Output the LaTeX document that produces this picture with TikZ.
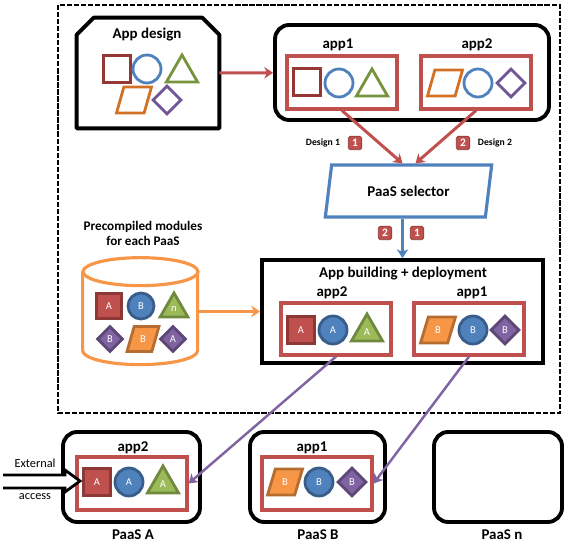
\documentclass[tikz,border=0pt]{standalone}
\usepackage{fontspec}
\setmainfont{Carlito}
\usepackage{tikz}
\usetikzlibrary{shapes.geometric, arrows.meta, positioning, calc}
\usepackage{xcolor}
\definecolor{boxred}{RGB}{192,80,77}
\definecolor{sqdark}{RGB}{149,55,53}
\definecolor{sqline}{RGB}{140,56,54}
\definecolor{cblue}{RGB}{79,129,189}
\definecolor{cline}{RGB}{56,93,138}
\definecolor{tgreen}{RGB}{119,147,60}
\definecolor{tgreenf}{RGB}{155,187,89}
\definecolor{tline}{RGB}{113,137,63}
\definecolor{porange}{RGB}{210,112,36}
\definecolor{porangef}{RGB}{247,150,70}
\definecolor{pline}{RGB}{182,109,49}
\definecolor{dpurple}{RGB}{112,86,150}
\definecolor{dpurplef}{RGB}{128,100,162}
\definecolor{dline}{RGB}{92,71,118}

\begin{document}
\begin{tikzpicture}[
        x=0.02cm, y=-0.02cm,
        holder/.style={draw=black, line width=2.2pt, rounded corners=8pt, inner sep=0pt},
        appbox/.style={rectangle, draw=boxred, line width=1.8pt, minimum width=2.2cm, minimum height=1.06cm, inner sep=0pt},
        heading/.style={font=\fontsize{8.5}{10}\selectfont\bfseries},
        tag/.style={font=\fontsize{5.5}{6}\selectfont\bfseries},
        badge/.style={fill=boxred, draw=sqline, rounded corners=1pt, minimum size=0.27cm, inner sep=0pt, text=white, font=\fontsize{6.5}{7}\selectfont\bfseries},
        shp/.style={line width=1.6pt, inner sep=0pt, text=white, font=\fontsize{6}{7}\selectfont},
        sq/.style={shp, rectangle, minimum size=0.54cm},
        circ/.style={shp, circle, minimum size=0.56cm},
        tri/.style={shp, regular polygon, regular polygon sides=3, minimum size=0.72cm},
        para/.style={shp, trapezium, trapezium left angle=70, trapezium right angle=110, trapezium stretches=true, inner sep=1pt, minimum width=0.7cm, minimum height=0.52cm},
        dia/.style={shp, diamond, minimum size=0.58cm},
        osq/.style={sq, draw=sqdark},
        ocirc/.style={circ, draw=cblue},
        otri/.style={tri, draw=tgreen},
        opara/.style={para, draw=porange},
        odia/.style={dia, draw=dpurple},
        fsq/.style={sq, fill=boxred, draw=sqline},
        fcirc/.style={circ, fill=cblue, draw=cline},
        ftri/.style={tri, fill=tgreenf, draw=tline},
        fpara/.style={para, fill=porangef, draw=pline},
        fdia/.style={dia, fill=dpurplef, draw=dline},
        tip/.style={-{Stealth[length=5pt, width=6.5pt, inset=1.5pt]}},
        redarrow/.style={draw=boxred, line width=1.7pt, tip},
        bluearrow/.style={draw=cblue, line width=1.7pt, tip},
        orangearrow/.style={draw=porangef, line width=1.7pt, tip},
        purplearrow/.style={draw=dpurplef, line width=1.4pt, tip}
    ]
        \useasboundingbox (0,0) rectangle (565,543);
        \draw [line width=1.2pt, dash pattern=on 3pt off 1pt] (58,5) rectangle (560,413);

        % design side
        \node [minimum width=2.84cm, minimum height=2.2cm, inner sep=0pt] (design) at (148,73) {};
        \draw [line width=2.2pt, line join=round] (design.south west) -- ($(design.north west)+(0,17)$) -- ($(design.north west)+(17,0)$) -- ($(design.north east)+(-17,0)$) -- ($(design.north east)+(0,17)$) -- (design.south east) -- cycle;
        \node [heading] (designtitle) at (147,35) {App design};
        \node [osq] (d1) at (117,69) {};
        \node [ocirc] (d2) at (147,69) {};
        \node [otri] (d3) at (182,73) {};
        \node [opara] (d4) at (134,100) {};
        \node [odia] (d5) at (167,100) {};

        \node [holder, minimum width=5.48cm, minimum height=1.9cm] (apps) at (412,72.5) {};
        \node [heading] at (338,45) {app1};
        \node [heading] at (477,45) {app2};
        \node [appbox] (a1) at (342,82.5) {};
        \node [appbox] (a2) at (476,82.5) {};
        \node [osq] at (307,82) {};
        \node [ocirc] at (339,83) {};
        \node [otri] at (372,87) {};
        \node [opara] at (445,83) {};
        \node [ocirc] at (478,83) {};
        \node [odia] at (511,83) {};

        \node [trapezium, trapezium left angle=76, trapezium right angle=104, trapezium stretches=true, draw=cblue, line width=1.8pt, minimum width=3.34cm, minimum height=1.04cm, inner sep=1pt, heading] (sel) at (408.5,191) {PaaS selector};

        \draw [redarrow] (design) -- (apps);
        \draw [redarrow] (a1.south) -- ($(sel.north)+(-6,0)$);
        \draw [redarrow] (a2.south) -- ($(sel.north)+(7,0)$);
        \node [tag] at (323,143) {Design 1};
        \node [badge] at (355,143) {1};
        \node [badge] at (463,143) {2};
        \node [tag] at (495,143) {Design 2};

        % building side
        \node [holder, rounded corners=0pt, minimum width=5.62cm, minimum height=2.06cm] (build) at (402.5,311.5) {};
        \node [heading] at (403,274) {App building + deployment};
        \node [heading] at (332,293) {app2};
        \node [heading] at (472,293) {app1};
        \node [appbox, minimum height=1.04cm] (b2) at (336,329) {};
        \node [appbox, minimum height=1.04cm] (b1) at (469,329) {};
        \node [fsq] at (301,330) {A};
        \node [fcirc] at (333,330) {A};
        \node [ftri] at (367,332) {A};
        \node [fpara] at (438,330) {B};
        \node [fcirc] at (473,330) {B};
        \node [fdia] at (505,330) {B};

        \draw [bluearrow] (sel.south -| build.north) -- (build.north);
        \node [badge] at (385,233) {2};
        \node [badge] at (417,233) {1};

        % precompiled modules
        \node [heading, font=\fontsize{7.5}{9}\selectfont\bfseries, align=center] at (143,233.5) {Precompiled modules\\for each PaaS};
        \node [minimum width=2.3cm, minimum height=2.14cm, inner sep=0pt] (db) at (140.5,311.5) {};
        \draw [porangef, line width=1.8pt] ($(db.north)+(0,14)$) ellipse [x radius=1.15cm, y radius=0.28cm];
        \draw [porangef, line width=1.8pt] ($(db.north west)+(0,14)$) -- ++(0,79) arc [start angle=180, end angle=360, x radius=1.15cm, y radius=0.28cm] -- ++(0,-79);
        \node [fsq, minimum size=0.5cm] at (109,306) {A};
        \node [fcirc, minimum size=0.52cm] at (141,306) {B};
        \node [ftri, minimum size=0.64cm] at (174,309) {n};
        \node [fdia, minimum size=0.52cm] at (110,339) {B};
        \node [fpara, minimum width=0.64cm, minimum height=0.5cm] at (143,339) {B};
        \node [fdia, minimum size=0.52cm] at (173,339) {A};
        \draw [orangearrow] (db.east) -- (build.west);

        % PaaS targets
        \node [holder, minimum width=2.74cm, minimum height=1.8cm] (pA) at (131.5,477) {};
        \node [heading] at (133,448) {app2};
        \node [appbox] (pAapp) at (132,483.5) {};
        \node [fsq] at (97,482) {A};
        \node [fcirc] at (129,482) {A};
        \node [ftri] at (163,484) {A};
        \node [heading] at (133,535) {PaaS A};

        \node [holder, minimum width=2.7cm, minimum height=1.8cm] (pB) at (317.5,477) {};
        \node [heading] at (312,448) {app1};
        \node [appbox] (pBapp) at (317,483.5) {};
        \node [fpara] at (285,482) {B};
        \node [fcirc] at (319,482) {B};
        \node [fdia] at (352,482) {B};
        \node [heading] at (318,535) {PaaS B};

        \node [holder, minimum width=2.56cm, minimum height=1.8cm] (pN) at (498,477) {};
        \node [heading] at (502,535) {PaaS n};

        \draw [purplearrow] (b2.south) -- (pAapp.east);
        \draw [purplearrow] (b1.south) -- (pBapp.east);

        % external access
        \draw [fill=white, line width=1.6pt] (3,475) -- (65,475) -- (65,470) -- (80,481) -- (65,492) -- (65,488) -- (3,488);
        \node [font=\fontsize{7}{8}\selectfont] at (35,463) {External};
        \node [font=\fontsize{7}{8}\selectfont] at (35,497) {access};
    \end{tikzpicture}
\end{document}
